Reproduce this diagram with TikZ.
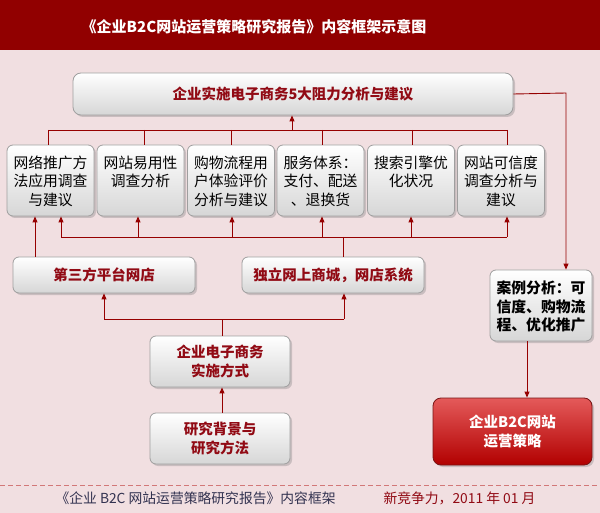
\documentclass[tikz,border=0pt]{standalone}
\usepackage{fontspec}
\setmainfont{Noto Sans CJK SC}
\usetikzlibrary{shadows,arrows.meta}
\definecolor{bg}{RGB}{241,223,225}
\definecolor{titlered}{RGB}{145,0,0}
\definecolor{linered}{RGB}{150,0,0}
\definecolor{txtred}{RGB}{145,10,20}
\definecolor{footblue}{RGB}{50,50,80}
\definecolor{dashred}{RGB}{210,120,120}
\tikzset{
  box/.style={draw=gray!75, line width=0.8pt, rounded corners=6pt, top color=white, bottom color=gray!32,
    drop shadow={shadow xshift=2pt, shadow yshift=-2pt, opacity=0.35}},
  redtxt/.style={text=txtred, font=\fontsize{14.5}{18.5}\selectfont\bfseries, align=center},
  blktxt/.style={text=black, font=\fontsize{14.8}{18.5}\selectfont, align=center, inner sep=0pt},
  conn/.style={draw=linered, line width=0.9pt},
  arr/.style={conn, -{Triangle[width=5pt,length=6pt]}},
  redbox/.style={draw={rgb,255:red,120;green,20;blue,20}, line width=0.8pt, rounded corners=8pt,
    top color={rgb,255:red,228;green,90;blue,90}, bottom color={rgb,255:red,178;green,0;blue,0},
    drop shadow={shadow xshift=2pt, shadow yshift=-2pt, opacity=0.35}}
}
\begin{document}
\begin{tikzpicture}[x=1pt,y=-1pt]
\fill[bg] (0,0) rectangle (600,513);
\useasboundingbox (0,0) rectangle (600,513);
\fill[titlered] (0,0) rectangle (600,50);
\node[text=white, font=\fontsize{15}{18}\selectfont\bfseries] (title) at (254,27) {《企业B2C网站运营策略研究报告》内容框架示意图};

% top box
\node[box, rounded corners=8pt, minimum width=440, minimum height=42, redtxt] (top) at (293,94) {企业实施电子商务5大阻力分析与建议};

% six boxes
\foreach \n/\x in {b1/50.5,b2/140.5,b3/231,b4/320.5,b5/411,b6/501}
  \node[box, minimum width=87, minimum height=71] (\n) at (\x,180.5) {};
\node[blktxt, anchor=north] (t1) at ([yshift=-11pt]b1.north) {网络推广方\\法应用调查\\与建议};
\node[blktxt, anchor=north] (t2) at ([yshift=-11pt]b2.north) {网站易用性\\调查分析};
\node[blktxt, anchor=north] (t3) at ([yshift=-11pt]b3.north) {购物流程用\\户体验评价\\分析与建议};
\node[blktxt, anchor=north] (t4) at ([yshift=-11pt]b4.north) {服务体系：\\支付、配送\\、退换货};
\node[blktxt, anchor=north] (t5) at ([yshift=-11pt]b5.north) {搜索引擎优\\化状况};
\node[blktxt, anchor=north] (t6) at ([yshift=-11pt]b6.north) {网站可信度\\调查分析与\\建议};

% top connectors
\coordinate (u0) at (292,130);
\coordinate (u1) at (48,130);
\coordinate (u2) at (144,130);
\coordinate (u3) at (231,130);
\coordinate (u4) at (322,130);
\coordinate (u5) at (412,130);
\coordinate (u6) at (507,130);
\draw[conn] (u1) -- (u6);
\draw[conn] (u1) -- (u1 |- b1.north);
\draw[conn] (u2) -- (u2 |- b2.north);
\draw[conn] (u3) -- (u3 |- b3.north);
\draw[conn] (u4) -- (u4 |- b4.north);
\draw[conn] (u5) -- (u5 |- b5.north);
\draw[conn] (u6) -- (u6 |- b6.north);
\draw[arr] (u0) -- (u0 |- top.south);

% middle boxes
\node[box, minimum width=182, minimum height=36, redtxt] (s1) at (104,275) {第三方平台网店};
\node[box, minimum width=182, minimum height=36, redtxt] (s2) at (333,275) {独立网上商城，网店系统};

% bottom connectors of six boxes
\coordinate (d0) at (343,237);
\coordinate (d1) at (61,237);
\coordinate (d2) at (138,237);
\coordinate (d3) at (232,237);
\coordinate (d4) at (322,237);
\coordinate (d5) at (411,237);
\coordinate (d6) at (507,237);
\coordinate (dA) at (35,257);
\draw[conn] (d1) -- (d6);
\draw[conn] (d0) -- (d0 |- s2.north);
\draw[arr] (d1) -- (d1 |- b1.south);
\draw[arr] (d2) -- (d2 |- b2.south);
\draw[arr] (d3) -- (d3 |- b3.south);
\draw[arr] (d4) -- (d4 |- b4.south);
\draw[arr] (d5) -- (d5 |- b5.south);
\draw[arr] (d6) -- (d6 |- b6.south);
\draw[arr] (dA |- s1.north) -- (dA |- b1.south);

% lower boxes
\node[box, minimum width=140, minimum height=51, redtxt] (m) at (220,361.5) {企业电子商务\\实施方式};
\node[box, minimum width=140, minimum height=51, redtxt] (r) at (220,438.5) {研究背景与\\研究方法};
\coordinate (mj) at (222,319);
\coordinate (mL) at (104,319);
\coordinate (mR) at (344,319);
\draw[conn] (mj |- m.north) -- (mj);
\draw[conn] (mL) -- (mR);
\draw[arr] (mL) -- (mL |- s1.south);
\draw[arr] (mR) -- (mR |- s2.south);
\draw[arr] (mj |- r.north) -- (mj |- m.south);

% case box and red box
\node[box, minimum width=102, minimum height=71] (c) at (541,305.5) {};
\node[blktxt, anchor=north, font=\fontsize{14.8}{18.5}\selectfont\bfseries] (tc) at ([yshift=-11pt]c.north) {案例分析：可\\信度、购物流\\程、优化推广};
\node[redbox, minimum width=159, minimum height=67, text=white, font=\fontsize{14.5}{18.5}\selectfont\bfseries, align=center] (rb) at (512.5,431.5) {企业B2C网站\\运营策略};
\coordinate (k1) at (566,93);
\coordinate (k2) at (527,341);
\draw[arr] (top.east) -- (k1) -- (k1 |- c.north);
\draw[arr] (k2 |- c.south) -- (k2 |- rb.north);

% footer
\draw[dashred, line width=0.8pt, dash pattern=on 5pt off 3pt] (0,485) -- (600,485);
\node[text=footblue, font=\fontsize{13.8}{16}\selectfont, anchor=west] (f1) at (52,498) {《企业 B2C 网站运营策略研究报告》内容框架};
\node[text=txtred, font=\fontsize{13.8}{16}\selectfont, anchor=west] (f2) at (380,498) {新竞争力，2011 年 01 月};
\end{tikzpicture}
\end{document}
